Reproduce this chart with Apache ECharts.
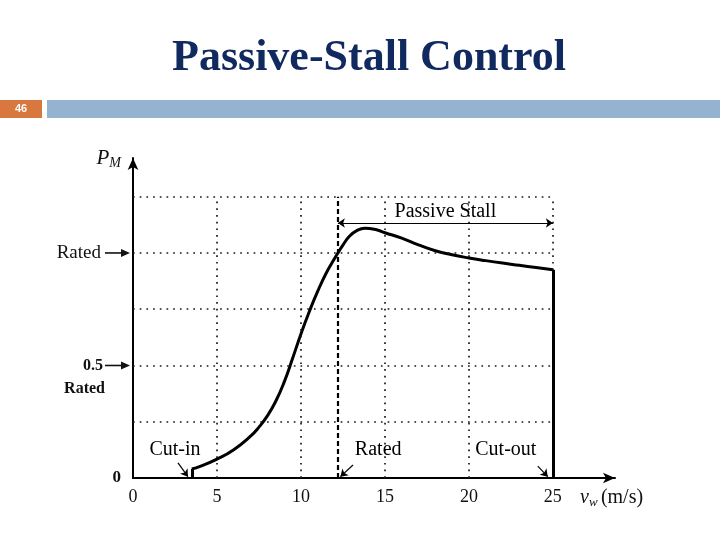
<!DOCTYPE html>
<html>
<head>
<meta charset="utf-8">
<script src="https://cdn.jsdelivr.net/npm/echarts/dist/echarts.min.js"></script>
<style>
    html, body { margin: 0; padding: 0; background: #fff; }
    #main { width: 720px; height: 540px; }
</style>
</head>
<body>
<div id="main"></div>
<script>
// wind speed (m/s) and mechanical power (per unit of rated)
var speed = [3.5, 4, 5, 6, 7, 7.5, 8, 8.5, 9, 9.5, 10, 10.5, 11, 11.5, 12, 12.2, 12.5, 12.9, 13.3, 13.8, 14.5, 15, 16, 17, 18, 19, 20, 21, 22, 23, 24, 25];
var power = [0.04, 0.052, 0.084, 0.126, 0.186, 0.226, 0.276, 0.341, 0.426, 0.531, 0.64, 0.74, 0.83, 0.91, 0.975, 1.0, 1.035, 1.075, 1.098, 1.11, 1.103, 1.09, 1.066, 1.036, 1.01, 0.992, 0.978, 0.966, 0.955, 0.945, 0.935, 0.925];
// dotted reference grid
var gridSpeeds = [5, 10, 15, 20, 25];
var gridLevels = [0.25, 0.5, 0.75, 1, 1.25];
// tick labels
var speedTicks = [0, 5, 10, 15, 20, 25];
var levelTicks = [0, 0.5, 1];
var levelNames = ['0', '0.5 Rated', 'Rated'];
var arrowLevels = [0.5, 1];
// operating points
var cutIn = 3.5, ratedSpeed = 12.2, cutOut = 25;
var notes = ['Cut-in', 'Rated', 'Cut-out', 'Passive Stall'];

/*注释位置（数据坐标）*/
var notePos = [[2.5, 0.124], [14.6, 0.124], [22.2, 0.124], [18.6, 1.185]];
var pointerFrom = [[2.68, 0.067], [13.1, 0.058], [24.1, 0.053]];
var pointerTo = [[3.27, 0.006], [12.35, 0.006], [24.7, 0.006]];
var stallLevel = 1.133;

var serif = 'Liberation Serif';
var gridTop = gridLevels[gridLevels.length - 1];

var chart = echarts.init(document.getElementById('main'));

var gridLines = gridSpeeds.map(function(s){
    return [{coord: [s, 0]}, {coord: [s, gridTop]}];
}).concat(gridLevels.map(function(l){
    return [{coord: [0, l]}, {coord: [cutOut, l]}];
}));
gridLines.push([
    {coord: [ratedSpeed, 0], lineStyle: {type: [5, 3], width: 2.2, color: '#000'}},
    {coord: [ratedSpeed, gridTop]}
]);

var pointers = pointerFrom.map(function(p, i){
    return [{coord: p, symbol: 'none'}, {coord: pointerTo[i], symbol: 'arrow'}];
});
pointers.push([
    {coord: [ratedSpeed, stallLevel], symbol: 'arrow'},
    {coord: [cutOut, stallLevel], symbol: 'arrow'}
]);

var option = {
    animation: false,
    graphic: [
        {type: 'rect', id: 'num', shape: {x: 0, y: 100, width: 42, height: 18}, style: {fill: '#D9783E'}},
        {type: 'text', id: 'numText', style: {text: '46', x: 21, y: 109, align: 'center', verticalAlign: 'middle', fill: '#fff', font: 'bold 11px "Liberation Sans"'}},
        {type: 'rect', id: 'bar', shape: {x: 47, y: 100, width: 673, height: 18}, style: {fill: '#93B3D1'}},
        {type: 'text', id: 'title', style: {text: 'Passive-Stall Control', x: 369, y: 59, align: 'center', verticalAlign: 'middle', fill: '#10295E', font: 'bold 44px "Liberation Serif"'}}
    ],
    grid: {left: 133, right: 105, top: 158, bottom: 62},
    xAxis: {
        type: 'value',
        min: 0,
        max: 28.7,
        interval: 5,
        axisLine: {lineStyle: {color: '#000', width: 2}, symbol: ['none', 'arrow'], symbolSize: [8, 12]},
        axisTick: {show: false},
        splitLine: {show: false},
        axisLabel: {
            margin: 10,
            color: '#111',
            fontFamily: serif,
            fontSize: 18,
            formatter: function(v){ return speedTicks.indexOf(v) >= 0 ? String(v) : ''; }
        },
        name: '{v|v}{w|w} {u|(m/s)}',
        nameLocation: 'end',
        nameGap: -35,
        nameTextStyle: {
            verticalAlign: 'top',
            padding: [9, 0, 0, 0],
            rich: {
                v: {fontFamily: serif, fontStyle: 'italic', fontSize: 20, color: '#111'},
                w: {fontFamily: serif, fontStyle: 'italic', fontSize: 13, color: '#111', padding: [9, 0, 0, 0]},
                u: {fontFamily: serif, fontSize: 20, color: '#111'}
            }
        }
    },
    yAxis: {
        type: 'value',
        min: 0,
        max: 1.422,
        interval: 0.25,
        axisLine: {lineStyle: {color: '#000', width: 2}, symbol: ['none', 'arrow'], symbolSize: [8, 12]},
        axisTick: {show: false},
        splitLine: {show: false},
        axisLabel: {
            margin: 12,
            formatter: function(v){
                var i = levelTicks.indexOf(v);
                if(i < 0) return '';
                var parts = levelNames[i].split(' ');
                if(v == 0) return '{z|' + parts[0] + '}';
                if(parts.length > 1) return '{e| }\n{s|' + parts[0] + '}\n{r|' + parts[1] + '}';
                return '{t|' + parts[0] + '}';
            },
            rich: {
                e: {fontSize: 16, lineHeight: 23},
                t: {fontFamily: serif, fontSize: 19, color: '#111', lineHeight: 23, padding: [0, 20, 0, 0]},
                s: {fontFamily: serif, fontSize: 16, fontWeight: 'bold', color: '#111', lineHeight: 23, padding: [0, 18, 0, 0]},
                r: {fontFamily: serif, fontSize: 16, fontWeight: 'bold', color: '#111', lineHeight: 23, padding: [0, 16, 0, 0]},
                z: {fontFamily: serif, fontSize: 17, fontWeight: 'bold', color: '#111'}
            }
        },
        name: '{p|P}{m|M}',
        nameLocation: 'end',
        nameGap: 0,
        nameTextStyle: {
            align: 'right',
            verticalAlign: 'middle',
            padding: [0, 12, 0, 0],
            rich: {
                p: {fontFamily: serif, fontStyle: 'italic', fontSize: 21, color: '#111'},
                m: {fontFamily: serif, fontStyle: 'italic', fontSize: 14, color: '#111', padding: [10, 0, 0, 0]}
            }
        }
    },
    series: [
        {   /*点状网格*/
            name: 'grid',
            type: 'line',
            data: [],
            silent: true,
            z: 1,
            markLine: {
                silent: true,
                symbol: 'none',
                animation: false,
                label: {show: false},
                lineStyle: {color: '#1a1a1a', width: 1.7, type: [1.7, 5]},
                data: gridLines
            }
        },
        {
            name: 'P_M',
            type: 'line',
            data: speed.map(function(s, i){ return [s, power[i]]; }),
            smooth: 0.5,
            showSymbol: false,
            z: 3,
            lineStyle: {color: '#000', width: 3},
            markLine: {
                silent: true,
                symbol: 'none',
                label: {show: false},
                lineStyle: {color: '#000', width: 3, type: 'solid'},
                data: [
                    [{coord: [cutIn, 0]}, {coord: [cutIn, power[0]]}],
                    [{coord: [cutOut, power[power.length - 1]]}, {coord: [cutOut, 0]}]
                ]
            }
        },
        {   /*注释箭头*/
            name: 'pointers',
            type: 'line',
            data: [],
            z: 4,
            markLine: {
                silent: true,
                symbolSize: 7,
                label: {show: false},
                lineStyle: {color: '#000', width: 1.2, type: 'solid'},
                data: pointers
            }
        },
        {
            name: 'notes',
            type: 'scatter',
            symbolSize: 1,
            itemStyle: {color: 'rgba(0,0,0,0)'},
            z: 5,
            silent: true,
            label: {
                show: true,
                position: 'inside',
                formatter: '{b}',
                color: '#000',
                textBorderWidth: 0,
                opacity: 1,
                fontFamily: serif,
                fontSize: 20
            },
            data: notes.map(function(t, i){ return {name: t, value: notePos[i]}; })
        }
    ]
};
chart.setOption(option);

/*左侧刻度箭头*/
var arrows = [];
arrowLevels.forEach(function(v){
    var p = chart.convertToPixel({gridIndex: 0}, [0, v]);
    arrows.push({type: 'line', id: 'ln' + v, shape: {x1: p[0] - 28, y1: p[1], x2: p[0] - 8, y2: p[1]}, style: {stroke: '#111', lineWidth: 1.6}});
    arrows.push({type: 'polygon', id: 'hd' + v, shape: {points: [[p[0] - 3, p[1]], [p[0] - 12, p[1] - 4], [p[0] - 12, p[1] + 4]]}, style: {fill: '#111'}});
});
chart.setOption({graphic: arrows});
</script>
</body>
</html>
